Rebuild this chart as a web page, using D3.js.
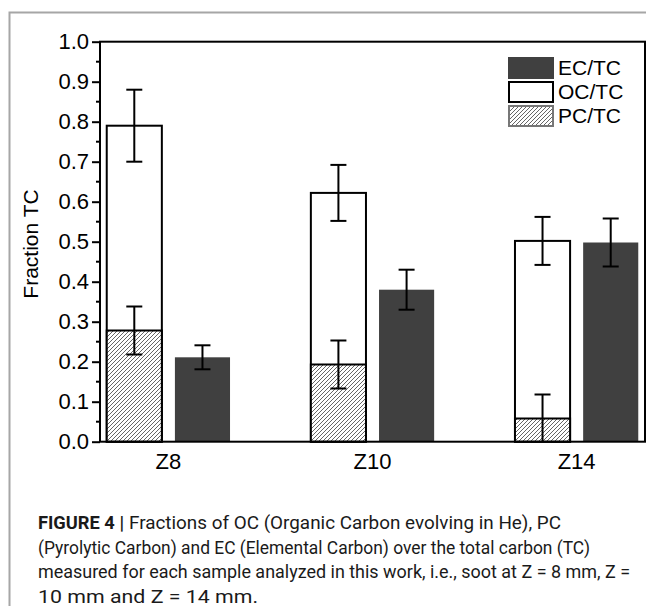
<!DOCTYPE html>
<html>
<head>
<meta charset="utf-8">
<script src="https://cdn.jsdelivr.net/npm/d3@7"></script>
<style>
  body { margin: 0; background: #fff; }
</style>
</head>
<body>
<div id="chart"></div>
<script>
// Data
const samples = ["Z8", "Z10", "Z14"];
const pcFrac = [0.278, 0.193, 0.058];   // PC/TC (hatched, bottom of stack)
const pcErr  = [0.06, 0.06, 0.06];
const ocTop  = [0.79, 0.622, 0.502];    // top of the PC + OC stack
const ocErr  = [0.09, 0.07, 0.06];
const ecFrac = [0.211, 0.38, 0.498];    // EC/TC (dark bars)
const ecErr  = [0.03, 0.05, 0.06];
const yTicks = [0, 0.1, 0.2, 0.3, 0.4, 0.5, 0.6, 0.7, 0.8, 0.9, 1.0];
const legendItems = ["EC/TC", "OC/TC", "PC/TC"];
const captionLines = [
  "Fractions of OC (Organic Carbon evolving in He), PC",
  "(Pyrolytic Carbon) and EC (Elemental Carbon) over the total carbon (TC)",
  "measured for each sample analyzed in this work, i.e., soot at Z = 8 mm, Z =",
  "10 mm and Z = 14 mm."
];
const captionWidths = [432, 552, 592, 220];

const width = 646, height = 606;
const plot = { left: 100, right: 645, top: 41.7, bottom: 441.7 };
const font = "'Liberation Sans', Arial, sans-serif";

const svg = d3.select("#chart").append("svg")
  .attr("width", width)
  .attr("height", height);

// Hatch pattern for PC/TC
const defs = svg.append("defs");
const pat = defs.append("pattern")
  .attr("id", "hatch")
  .attr("patternUnits", "userSpaceOnUse")
  .attr("width", 4).attr("height", 4);
pat.append("rect").attr("width", 4).attr("height", 4).attr("fill", "#fff");
pat.append("path")
  .attr("d", "M-1,1 L1,-1 M0,4 L4,0 M3,5 L5,3")
  .attr("stroke", "#555")
  .attr("stroke-width", 0.9);

// Page frame (figure box)
svg.append("path")
  .attr("d", `M9.5,${height} V12.5 H${width}`)
  .attr("fill", "none")
  .attr("stroke", "#a6a6a6")
  .attr("stroke-width", 2);

// Scales
const x = d3.scalePoint().domain(samples).range([plot.left, plot.right]).padding(0.335);
const y = d3.scaleLinear().domain([0, 1]).range([plot.bottom, plot.top]);
const step = x.step();
const bw = step * 0.27;
const gap = step * 0.064;

const rows = samples.map((s, i) => ({
  s, pc: pcFrac[i], pcE: pcErr[i], oc: ocTop[i], ocE: ocErr[i], ec: ecFrac[i], ecE: ecErr[i]
}));

const g = svg.append("g");

// Stacked bars: PC (hatched) under OC (white)
g.selectAll(".oc").data(rows).enter().append("rect")
  .attr("x", d => x(d.s) - gap / 2 - bw)
  .attr("y", d => y(d.oc))
  .attr("width", bw)
  .attr("height", d => y(0) - y(d.oc))
  .attr("fill", "#fff")
  .attr("stroke", "#000")
  .attr("stroke-width", 2);

g.selectAll(".pc").data(rows).enter().append("rect")
  .attr("x", d => x(d.s) - gap / 2 - bw)
  .attr("y", d => y(d.pc))
  .attr("width", bw)
  .attr("height", d => y(0) - y(d.pc))
  .attr("fill", "url(#hatch)")
  .attr("stroke", "#000")
  .attr("stroke-width", 2);

// EC bars
g.selectAll(".ec").data(rows).enter().append("rect")
  .attr("x", d => x(d.s) + gap / 2)
  .attr("y", d => y(d.ec))
  .attr("width", bw)
  .attr("height", d => y(0) - y(d.ec))
  .attr("fill", "#404040");

// Error bars
function errorBars(cx, val, err) {
  const eg = g.selectAll(null).data(rows).enter().append("g")
    .attr("stroke", "#000").attr("stroke-width", 2).attr("fill", "none");
  eg.append("line")
    .attr("x1", cx).attr("x2", cx)
    .attr("y1", d => y(Math.max(0, val(d) - err(d))))
    .attr("y2", d => y(val(d) + err(d)));
  eg.append("line")
    .attr("x1", d => cx(d) - 8).attr("x2", d => cx(d) + 8)
    .attr("y1", d => y(val(d) + err(d))).attr("y2", d => y(val(d) + err(d)));
  eg.filter(d => val(d) - err(d) > 0.005).append("line")
    .attr("x1", d => cx(d) - 8).attr("x2", d => cx(d) + 8)
    .attr("y1", d => y(val(d) - err(d))).attr("y2", d => y(val(d) - err(d)));
}
const cStack = d => x(d.s) - gap / 2 - bw / 2;
const cEc = d => x(d.s) + gap / 2 + bw / 2;
errorBars(cStack, d => d.oc, d => d.ocE);
errorBars(cStack, d => d.pc, d => d.pcE);
errorBars(cEc, d => d.ec, d => d.ecE);

// Plot frame
svg.append("rect")
  .attr("x", plot.left).attr("y", plot.top)
  .attr("width", plot.right - plot.left)
  .attr("height", plot.bottom - plot.top)
  .attr("fill", "none")
  .attr("stroke", "#000")
  .attr("stroke-width", 2);

// Y axis
const yAxis = svg.append("g")
  .attr("transform", `translate(${plot.left},0)`)
  .call(d3.axisLeft(y).tickValues(yTicks).tickFormat(d3.format(".1f")).tickSize(8).tickPadding(3));
yAxis.select(".domain").remove();
yAxis.selectAll(".tick line").attr("stroke-width", 2);
yAxis.selectAll("text").attr("font-family", font).attr("font-size", 22).attr("fill", "#000");

// minor ticks
svg.append("g").selectAll("line")
  .data(yTicks.slice(0, -1).map(v => v + 0.05)).enter().append("line")
  .attr("x1", plot.left - 4).attr("x2", plot.left)
  .attr("y1", d => y(d)).attr("y2", d => y(d))
  .attr("stroke", "#000").attr("stroke-width", 2);

// X labels
svg.append("g").selectAll("text").data(samples).enter().append("text")
  .attr("x", d => x(d))
  .attr("y", 469)
  .attr("text-anchor", "middle")
  .attr("font-family", font)
  .attr("font-size", 22)
  .text(d => d);

// Y title
svg.append("text")
  .attr("transform", "translate(38,244) rotate(-90)")
  .attr("text-anchor", "middle")
  .attr("font-family", font)
  .attr("font-size", 21)
  .text("Fraction TC");

// Legend
const leg = svg.append("g").attr("transform", "translate(508,57)");
const legFills = ["#404040", "#fff", "url(#hatch)"];
const legStrokes = ["#404040", "#000", "#777"];
const li = leg.selectAll("g").data(legendItems).enter().append("g")
  .attr("transform", (d, i) => `translate(0,${i * 24})`);
li.append("rect")
  .attr("x", 1).attr("y", 1)
  .attr("width", 44).attr("height", 20)
  .attr("fill", (d, i) => legFills[i])
  .attr("stroke", (d, i) => legStrokes[i])
  .attr("stroke-width", 2);
li.append("text")
  .attr("x", 50).attr("y", 18)
  .attr("font-family", font)
  .attr("font-size", 21)
  .text(d => d);

// Caption
const cap = svg.append("g").attr("font-family", "Roboto, 'Liberation Sans', sans-serif").attr("font-size", 18).attr("fill", "#1a1a1a");
cap.append("text").attr("x", 38).attr("y", 529)
  .attr("font-weight", "bold")
  .attr("textLength", 86).attr("lengthAdjust", "spacingAndGlyphs")
  .text("FIGURE 4 |");
captionLines.forEach((line, i) => {
  cap.append("text")
    .attr("x", i === 0 ? 129 : 38)
    .attr("y", 529 + i * 24.5)
    .attr("textLength", captionWidths[i])
    .attr("lengthAdjust", "spacingAndGlyphs")
    .text(line);
});
</script>
</body>
</html>
